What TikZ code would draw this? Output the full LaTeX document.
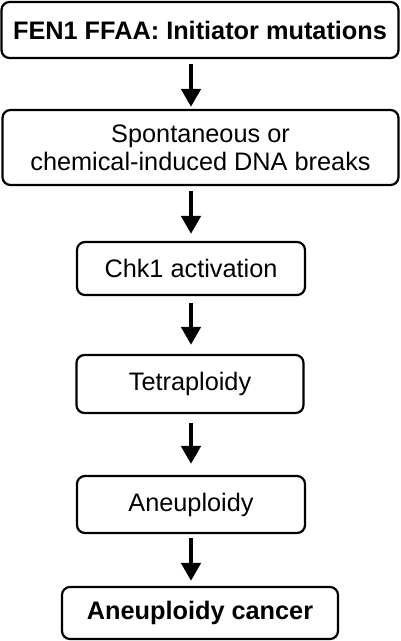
\documentclass[tikz,border=0pt]{standalone}
\usepackage{fontspec}
\setmainfont{Liberation Sans}
\usetikzlibrary{arrows.meta}

\begin{document}
\begin{tikzpicture}[x=1pt,y=-1pt,
  stage/.style={draw,line width=2.2pt,rounded corners=8pt,align=center,
    inner sep=0pt,font=\fontsize{25.3}{28}\selectfont},
  flow/.style={line width=4.5pt,-{Triangle[width=19pt,length=18pt]}}]
\useasboundingbox (0,0) rectangle (400,641);

\node[stage,minimum width=397pt,minimum height=56pt] (fen) at (200,30)
  {\bfseries FEN1 FFAA: Initiator mutations};
\node[stage,minimum width=396pt,minimum height=75pt] (breaks) at (200.5,147.5)
  {Spontaneous or\\chemical-induced DNA breaks};
\node[stage,minimum width=228pt,minimum height=53pt] (chk) at (191,268.5)
  {Chk1 activation};
\node[stage,minimum width=227pt,minimum height=58pt] (tetra) at (190,384)
  {Tetraploidy};
\node[stage,minimum width=228pt,minimum height=57pt] (aneu) at (191,504.5)
  {Aneuploidy};
\node[stage,minimum width=276pt,minimum height=52pt] (cancer) at (200,613)
  {\bfseries Aneuploidy cancer};

\coordinate (ax) at (191,0);
\foreach \a/\b/\s/\e in {fen/breaks/5/2, breaks/chk/5/7, chk/tetra/7/9,
                         tetra/aneu/9/11, aneu/cancer/4/5}
{
\draw[flow,shorten <=\s pt,shorten >=\e pt]
  (\a.south -| ax) -- (\b.north -| ax);
}
\end{tikzpicture}
\end{document}
